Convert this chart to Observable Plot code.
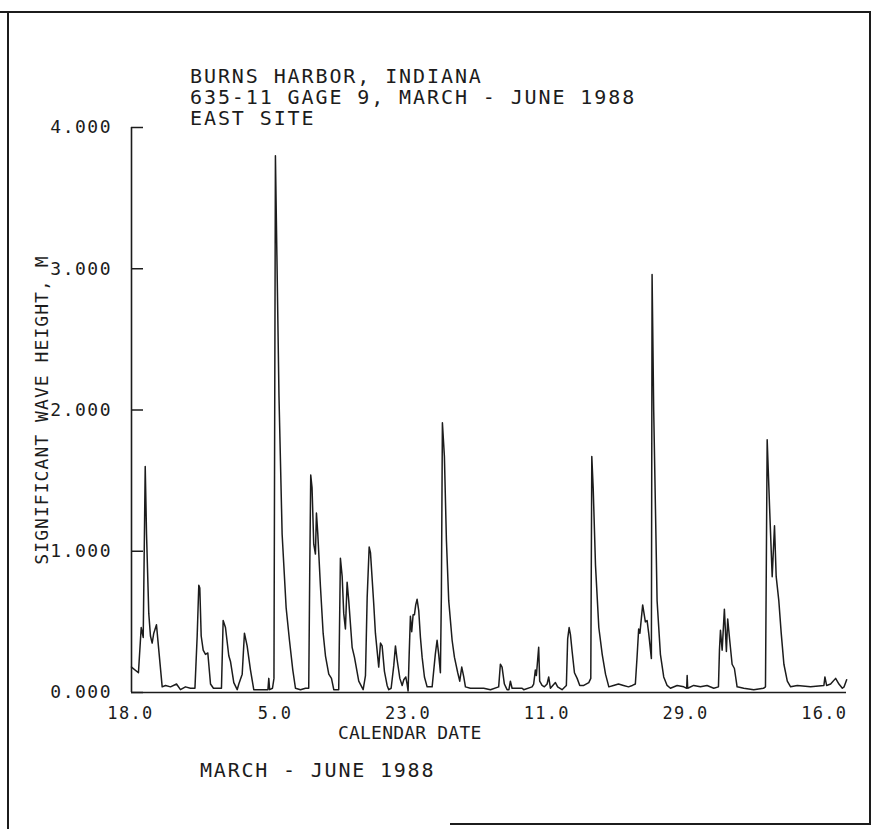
<!DOCTYPE html>
<html>
<head>
<meta charset="utf-8">
<script src="https://cdn.jsdelivr.net/npm/d3@7"></script>
<script src="https://cdn.jsdelivr.net/npm/@observablehq/plot@0.6"></script>
<style>
  html, body { margin: 0; padding: 0; background: #fff; }
  #page { position: relative; width: 875px; height: 829px; overflow: hidden;
          font-family: "DejaVu Sans Mono", monospace; color: #1c1c1c; }
  #page svg { position: absolute; left: 0; top: 0; }
  .t { position: absolute; white-space: pre; line-height: 1; }
  .title { left: 190px; top: 66.2px; font-size: 20px; line-height: 21px; letter-spacing: 1.9px; }
  .ln { position: absolute; background: #1c1c1c; }
  g[aria-label="y-axis tick label"] { letter-spacing: 1.5px; }
  g[aria-label="x-axis tick label"] { letter-spacing: 1.3px; }
</style>
</head>
<body>
<div id="page">
  <div class="ln" style="left:0;top:11px;width:871px;height:2px"></div>
  <div class="ln" style="left:7px;top:11px;width:2px;height:818px"></div>
  <div class="ln" style="left:869px;top:11px;width:2px;height:813px"></div>
  <div class="ln" style="left:450px;top:823px;width:421px;height:2px"></div>
</div>
<script>
// Title / annotation text
const titleLines = ["BURNS HARBOR, INDIANA", "635-11 GAGE 9, MARCH - JUNE 1988", "EAST SITE"];
const yLabel = "SIGNIFICANT WAVE HEIGHT, M";
const xLabel = "CALENDAR DATE";
const caption = "MARCH - JUNE 1988";

// Axis ticks
const yTicks = [0, 1, 2, 3, 4];
const xTicks = [0, 18, 36, 54, 72, 90];            // days since 18 March 1988
const xTickLabels = ["18.0", "5.0", "23.0", "11.0", "29.0", "16.0"];

// Series: time in days since 18 March 1988, significant wave height in metres
const dayOffset = [0.00,0.90,1.26,1.52,1.78,1.95,2.24,2.46,2.68,2.89,3.24,3.54,3.98,4.41,5.06,5.84,6.35,7.00,7.65,8.23,
8.52,8.73,8.86,9.04,9.30,9.60,9.90,10.25,10.63,11.28,11.67,11.89,12.19,12.62,12.84,13.27,13.71,13.92,14.36,14.65,
15.00,15.43,15.86,16.73,17.70,17.81,17.92,18.29,18.48,18.67,19.13,19.54,20.06,20.49,20.92,21.27,21.92,22.57,22.99,23.12,
23.25,23.42,23.64,23.86,23.99,24.16,24.51,24.86,25.16,25.59,25.94,26.24,26.88,27.10,27.33,27.53,27.75,27.97,28.18,28.62,
28.92,29.48,30.05,30.35,30.57,30.83,31.00,31.42,31.64,32.07,32.30,32.51,32.81,33.16,33.37,33.68,34.02,34.24,34.46,34.81,
35.11,35.32,35.58,35.75,35.88,36.02,36.18,36.35,36.53,36.70,36.87,37.05,37.26,37.48,37.70,38.00,38.35,39.00,39.41,39.64,
39.85,40.07,40.20,40.33,40.59,40.85,41.15,41.59,41.89,42.32,42.58,42.84,43.10,43.32,43.96,44.83,45.69,46.56,47.63,47.85,
48.07,48.37,48.72,48.96,49.15,49.37,50.67,50.88,51.96,52.17,52.39,52.52,52.82,52.95,53.26,53.56,53.91,54.12,54.34,54.99,
55.28,55.85,56.41,56.58,56.77,56.94,57.16,57.46,57.81,58.15,58.67,59.32,59.58,59.71,59.89,60.19,60.62,61.06,61.49,61.92,
62.52,63.17,63.82,64.47,64.97,65.36,65.58,65.79,65.95,66.31,66.66,66.88,67.09,67.44,67.53,67.74,68.18,68.61,69.04,69.48,
69.91,70.78,71.64,72.02,72.08,72.15,72.93,73.80,74.66,75.53,76.14,76.27,76.40,76.62,76.91,77.17,77.34,77.60,77.91,78.21,
78.56,79.42,80.72,81.98,82.24,82.46,82.80,83.11,83.41,83.63,83.97,84.28,84.63,85.07,85.50,86.37,88.09,89.82,89.95,90.17,
90.69,91.34,91.77,92.21,92.44,92.77];
const waveHeight = [0.18,0.14,0.46,0.39,1.60,1.12,0.56,0.40,0.35,0.42,0.48,0.30,0.04,0.05,0.04,0.06,0.02,0.04,0.03,0.03,
0.40,0.76,0.74,0.40,0.30,0.27,0.28,0.06,0.03,0.03,0.03,0.51,0.46,0.26,0.22,0.07,0.02,0.06,0.13,0.42,
0.33,0.16,0.02,0.02,0.02,0.10,0.02,0.03,0.10,3.80,2.10,1.12,0.60,0.37,0.16,0.03,0.02,0.03,0.03,0.85,
1.54,1.45,1.05,0.98,1.27,1.13,0.75,0.42,0.26,0.13,0.10,0.02,0.02,0.95,0.82,0.56,0.45,0.78,0.65,0.32,
0.25,0.08,0.02,0.12,0.67,1.03,0.99,0.63,0.42,0.18,0.35,0.33,0.15,0.05,0.02,0.03,0.19,0.33,0.23,0.10,
0.05,0.09,0.11,0.06,0.01,0.27,0.54,0.43,0.55,0.55,0.62,0.66,0.58,0.39,0.25,0.11,0.04,0.04,0.27,0.37,
0.27,0.14,0.70,1.91,1.67,1.08,0.65,0.37,0.25,0.14,0.08,0.18,0.11,0.04,0.03,0.03,0.03,0.02,0.04,0.20,
0.18,0.06,0.02,0.02,0.08,0.03,0.03,0.02,0.04,0.06,0.16,0.12,0.32,0.08,0.05,0.04,0.06,0.11,0.03,0.07,
0.04,0.02,0.05,0.38,0.46,0.41,0.29,0.14,0.10,0.05,0.05,0.07,0.10,1.67,1.45,0.90,0.46,0.27,0.13,0.04,
0.05,0.06,0.05,0.04,0.05,0.06,0.25,0.45,0.42,0.62,0.50,0.51,0.42,0.24,2.96,2.00,0.65,0.27,0.11,0.05,
0.03,0.05,0.04,0.03,0.12,0.03,0.05,0.04,0.05,0.03,0.04,0.30,0.44,0.30,0.59,0.29,0.52,0.37,0.20,0.17,
0.04,0.03,0.02,0.03,0.04,1.79,1.27,0.82,1.18,0.82,0.65,0.42,0.20,0.08,0.04,0.05,0.04,0.05,0.11,0.05,
0.06,0.10,0.06,0.03,0.04,0.09];

const series = dayOffset.map((d, i) => ({day: d, hs: waveHeight[i]}));

const ink = "#1c1c1c";
const W = 875, H = 829, ML = 131, MR = 29, MT = 127, MB = 137;
const tickLen = 12;
const chart = Plot.plot({
  width: W,
  height: H,
  marginLeft: ML,
  marginRight: MR,
  marginTop: MT,
  marginBottom: MB,
  style: {fontFamily: "DejaVu Sans Mono", color: ink, background: "transparent", overflow: "visible"},
  x: {domain: [0, 92.75]},
  y: {domain: [0, 4]},
  marks: [
    Plot.axisY({ticks: yTicks, tickSize: 0, tickPadding: 19.5, tickFormat: d3.format(".3f"), fontSize: 18, label: null}),
    // inward-pointing tick marks on the y axis (horizontal ticks inset to a short stub at the left edge)
    Plot.tickY(yTicks, {y: (d) => d, stroke: ink, strokeWidth: 1.5, insetRight: (W - ML - MR) - tickLen}),
    Plot.axisX({ticks: xTicks, tickSize: 0, tickPadding: 14, textAnchor: "end", dx: 22, fontSize: 17,
                tickFormat: (d) => xTickLabels[xTicks.indexOf(d)], label: null}),
    Plot.ruleX([0], {stroke: ink, strokeWidth: 1.6}),
    Plot.ruleY([0], {stroke: ink, strokeWidth: 1.6}),
    Plot.line(series, {x: "day", y: "hs", stroke: ink, strokeWidth: 1.5, strokeLinejoin: "round"})
  ]
});

const page = document.getElementById("page");
page.appendChild(chart);

function addText(str, cls, css) {
  const el = document.createElement("div");
  el.className = "t " + cls;
  el.textContent = str;
  Object.assign(el.style, css);
  page.appendChild(el);
  return el;
}
// title block: three lines in one block
addText(titleLines.join("\n"), "title", {});
// y-axis title, rotated, centred at (42, 410)
addText(yLabel, "", {left: "42px", top: "410px", fontSize: "18px", letterSpacing: "1.06px",
  transform: "translate(-50%, -50%) rotate(-90deg)"});
// x-axis title
addText(xLabel, "", {left: "338px", top: "724px", fontSize: "18px", letterSpacing: "0.2px"});
// caption
addText(caption, "", {left: "200px", top: "760.4px", fontSize: "20px", letterSpacing: "1.8px"});
</script>
</body>
</html>
